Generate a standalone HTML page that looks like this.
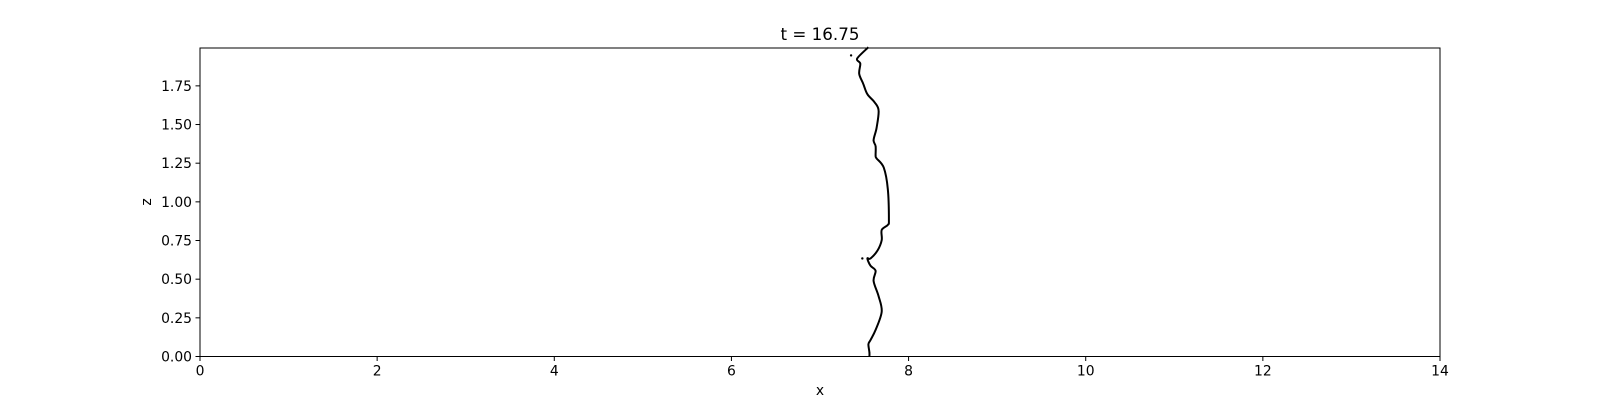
<!DOCTYPE html>
<html><head><meta charset="utf-8"><style>
body{margin:0;background:#fff;}
svg text{font-family:"DejaVu Sans","Liberation Sans",sans-serif;fill:#000;}
</style></head><body>
<svg id="chart" width="1600" height="400" viewBox="0 0 1600 400" xmlns="http://www.w3.org/2000/svg">
<rect width="1600" height="400" fill="#fff"/>
<g id="ticks"></g>
<path id="curve" fill="none" stroke="#000" stroke-width="2" stroke-linejoin="round"/>
<g id="dots"></g>
<rect x="200" y="48" width="1240" height="308.5" fill="none" stroke="#000" stroke-width="1"/>
<text x="820" y="40" font-size="16.7" text-anchor="middle">t = 16.75</text>
<text x="820" y="395" font-size="13.9" text-anchor="middle">x</text>
<text x="151" y="202" font-size="13.9" text-anchor="middle" transform="rotate(-90 151 202)">z</text>
</svg>
<script>
const xTicks=[0,2,4,6,8,10,12,14];
const zTicks=[0,0.25,0.5,0.75,1.0,1.25,1.5,1.75];
const curveX=[7.547,7.42,7.455,7.443,7.489,7.535,7.616,7.662,7.639,7.605,7.628,7.628,7.639,7.720,7.766,7.778,7.766,7.697,7.697,7.650,7.570,7.535,7.570,7.628,7.605,7.662,7.697,7.628,7.570,7.547,7.558,7.558];
const curveZ=[2.0,1.927,1.894,1.828,1.762,1.696,1.644,1.591,1.479,1.399,1.360,1.300,1.281,1.221,1.083,0.884,0.851,0.818,0.752,0.686,0.634,0.634,0.587,0.554,0.488,0.389,0.290,0.172,0.106,0.079,0.026,0];
const dotX=[7.351,7.478];
const dotZ=[1.947,0.634];
const X0=200,X1=1440,Y0=356.5,Y1=48;
const sx=v=>X0+(v-0)/(14-0)*(X1-X0);
const sz=v=>Y0-(v-0)/(2.0-0)*(Y0-Y1+0.8);
const NS="http://www.w3.org/2000/svg";
const tg=document.getElementById('ticks');
xTicks.forEach(t=>{
 const l=document.createElementNS(NS,'line');
 
 
 l.setAttribute('x1',sx(t));l.setAttribute('x2',sx(t));l.setAttribute('y1',Y0);l.setAttribute('y2',Y0+4.5);l.setAttribute('stroke','#000');
 tg.appendChild(l);
 const tx=document.createElementNS(NS,'text');
 
 
 tx.setAttribute('x',sx(t));tx.setAttribute('y',Y0+19);tx.setAttribute('font-size','13.9');tx.setAttribute('text-anchor','middle');
 tx.textContent=t;tg.appendChild(tx);
});
zTicks.forEach(t=>{
 const l=document.createElementNS(NS,'line');
 
 
 l.setAttribute('x1',X0-4.5);l.setAttribute('x2',X0);l.setAttribute('y1',sz(t));l.setAttribute('y2',sz(t));l.setAttribute('stroke','#000');
 tg.appendChild(l);
 const tx=document.createElementNS(NS,'text');
 
 
 tx.setAttribute('x',X0-8);tx.setAttribute('y',sz(t)+5);tx.setAttribute('font-size','13.9');tx.setAttribute('text-anchor','end');
 tx.textContent=t.toFixed(2);tg.appendChild(tx);
});
const P=curveX.map((v,i)=>[sx(v),sz(curveZ[i])]);
let d='M'+P[0][0].toFixed(1)+','+P[0][1].toFixed(1);
for(let i=0;i<P.length-1;i++){
 const p0=P[Math.max(i-1,0)],p1=P[i],p2=P[i+1],p3=P[Math.min(i+2,P.length-1)];
 const c1=[p1[0]+(p2[0]-p0[0])/6,p1[1]+(p2[1]-p0[1])/6];
 const c2=[p2[0]-(p3[0]-p1[0])/6,p2[1]-(p3[1]-p1[1])/6];
 d+='C'+c1.map(n=>n.toFixed(1)).join(',')+' '+c2.map(n=>n.toFixed(1)).join(',')+' '+p2.map(n=>n.toFixed(1)).join(',');
}
document.getElementById('curve').setAttribute('d',d);
const dg=document.getElementById('dots');
dotX.forEach((v,i)=>{
 const c=document.createElementNS(NS,'circle');
 
 
 c.setAttribute('cx',sx(v));c.setAttribute('cy',sz(dotZ[i]));c.setAttribute('r',1.2);c.setAttribute('fill','#000');
 dg.appendChild(c);
});
</script>
</body></html>
